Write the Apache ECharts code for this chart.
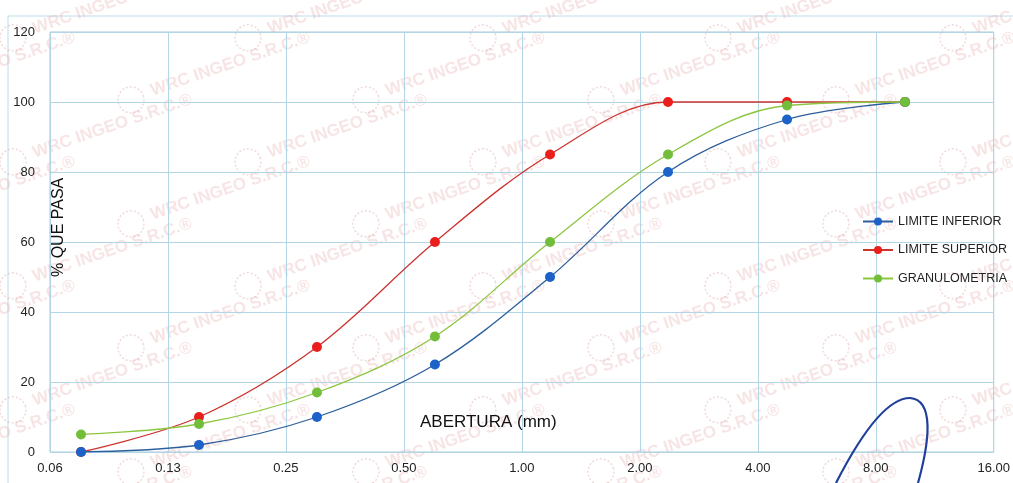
<!DOCTYPE html>
<html>
<head>
<meta charset="utf-8">
<script src="https://cdn.jsdelivr.net/npm/echarts@6/dist/echarts.min.js"></script>
<style>
html,body{margin:0;padding:0;background:#fff;}
#chart{width:1013px;height:483px;}
</style>
</head>
<body>
<div id="chart"></div>
<script>
// Data
var aberturas = [0.075, 0.15, 0.3, 0.6, 1.18, 2.36, 4.75, 9.5];
var limiteInferior = [0, 2, 10, 25, 50, 80, 95, 100];
var limiteSuperior = [0, 10, 30, 60, 85, 100, 100, 100];
var granulometria = [5, 8, 17, 33, 60, 85, 99, 100];
var xTickLabels = ['0.06', '0.13', '0.25', '0.50', '1.00', '2.00', '4.00', '8.00', '16.00'];
var yTicks = [0, 20, 40, 60, 80, 100, 120];
var seriesNames = ['LIMITE INFERIOR', 'LIMITE SUPERIOR', 'GRANULOMETRIA'];
var watermarkText = 'WRC INGEO S.R.C.\u00AE';

function pairs(vals) {
  return aberturas.map(function (x, i) { return [x, vals[i]]; });
}

var chart = echarts.init(document.getElementById('chart'), null, { renderer: 'canvas' });
var font = 'Liberation Sans, Arial, sans-serif';
var gridColor = '#b3d6e6';

var graphics = [
  { type: 'rect', shape: { x: 8, y: 16, width: 1100, height: 600 }, silent: true,
    style: { fill: 'none', stroke: '#bcdcea', lineWidth: 1 }, z: -1 },
  { type: 'text', x: 420, y: 414, silent: true, z: 50,
    style: { text: 'ABERTURA (mm)', font: '17px ' + font, fill: '#111' } },
  { type: 'text', x: 51, y: 277, rotation: Math.PI / 2, silent: true, z: 50,
    style: { text: '% QUE PASA', font: '16px ' + font, fill: '#111' } },
  { type: 'bezierCurve', silent: true, z: 100,
    shape: { x1: 836, y1: 483, cpx1: 858, cpy1: 440, cpx2: 885, cpy2: 398, x2: 910, y2: 398 },
    style: { fill: 'none', stroke: '#1f3f9c', lineWidth: 2.2 } },
  { type: 'bezierCurve', silent: true, z: 100,
    shape: { x1: 910, y1: 398, cpx1: 934, cpy1: 400, cpx2: 930, cpy2: 440, x2: 918, y2: 483 },
    style: { fill: 'none', stroke: '#1f3f9c', lineWidth: 2.2 } }
];
// faint watermark pattern behind the chart
for (var r = -2; r < 9; r++) {
  for (var c = -1; c < 6; c++) {
    var bx = c * 235 + (r % 2) * 118;
    var by = r * 62;
    graphics.push({ type: 'group', x: bx, y: by, rotation: 0.33, silent: true, z: -5,
      children: [
        { type: 'circle', shape: { cx: 0, cy: 40, r: 13 },
          style: { fill: 'none', stroke: 'rgba(215,150,150,0.35)', lineWidth: 1.5, lineDash: [2, 2] } },
        { type: 'text', x: 22, y: 30,
          style: { text: watermarkText, font: 'bold 17px ' + font, fill: 'rgba(225,160,160,0.28)' } }
      ] });
  }
}

var option = {
  backgroundColor: '#ffffff',
  animation: false,
  grid: { left: 50, right: 17, top: 32, bottom: 31, containLabel: false,
          show: true, borderColor: '#a9c9da', borderWidth: 1 },
  legend: {
    orient: 'vertical', left: 857, top: 210,
    itemWidth: 30, itemHeight: 10, itemGap: 15.5,
    textStyle: { fontFamily: font, fontSize: 12.5, color: '#222' },
    data: seriesNames
  },
  xAxis: {
    type: 'log', logBase: 2, min: 0.0625, max: 16,
    splitNumber: 8,
    axisLine: { show: false },
    axisTick: { show: false },
    splitLine: { show: true, lineStyle: { color: gridColor, width: 1 } },
    axisLabel: {
      fontFamily: font, fontSize: 13, color: '#222', margin: 10,
      formatter: function (v) {
        var i = Math.round(Math.log(v / 0.0625) / Math.LN2);
        return xTickLabels[i] !== undefined ? xTickLabels[i] : '';
      }
    }
  },
  yAxis: {
    type: 'value', min: yTicks[0], max: yTicks[yTicks.length - 1], interval: 20,
    axisLine: { show: false },
    axisTick: { show: false },
    splitLine: { show: true, lineStyle: { color: gridColor, width: 1 } },
    axisLabel: { fontFamily: font, fontSize: 13, color: '#222', margin: 15 }
  },
  series: [
    {
      name: seriesNames[0], type: 'line', smooth: 0.35,
      data: pairs(limiteInferior),
      symbol: 'circle', symbolSize: 10,
      itemStyle: { color: '#1c62c8' },
      lineStyle: { color: '#2d5f9c', width: 1.3 },
      z: 3
    },
    {
      name: seriesNames[1], type: 'line', smooth: 0.35,
      data: pairs(limiteSuperior),
      symbol: 'circle', symbolSize: 10,
      itemStyle: { color: '#ea1f1c' },
      lineStyle: { color: '#cc3430', width: 1.3 },
      z: 2
    },
    {
      name: seriesNames[2], type: 'line', smooth: 0.35,
      data: pairs(granulometria),
      symbol: 'circle', symbolSize: 10,
      itemStyle: { color: '#72be3a' },
      lineStyle: { color: '#8cc640', width: 1.3 },
      z: 4
    }
  ],
  graphic: graphics
};
chart.setOption(option);
</script>
</body>
</html>
